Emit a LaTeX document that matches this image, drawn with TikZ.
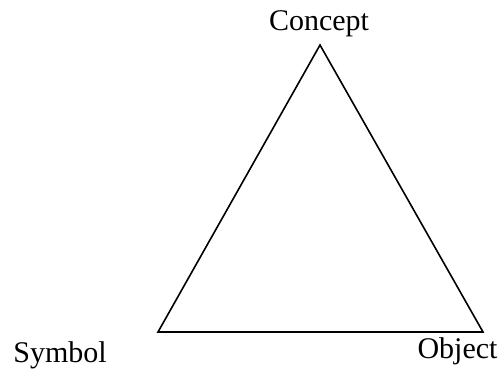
\documentclass[tikz,border=0pt]{standalone}
\usepackage{fontspec}
\setmainfont{Liberation Serif}
\begin{document}
\begin{tikzpicture}[x=1pt,y=1pt,
  lbl/.style={inner sep=0pt,anchor=base,font=\fontsize{30}{36}\selectfont},
  edge/.style={line width=1.6pt,line join=miter}]
\useasboundingbox (0,0) rectangle (502,368);
\coordinate (top) at (320,323);
\coordinate (bl) at (158,36);
\coordinate (br) at (483,36);
\draw[edge] (top) -- (bl) -- (br) -- cycle;
\node[lbl] (concept) at (319,338) {Concept};
\node[lbl] (symbol) at (60,6) {Symbol};
\node[lbl] (object) at (457.5,10) {Object};
\end{tikzpicture}
\end{document}
